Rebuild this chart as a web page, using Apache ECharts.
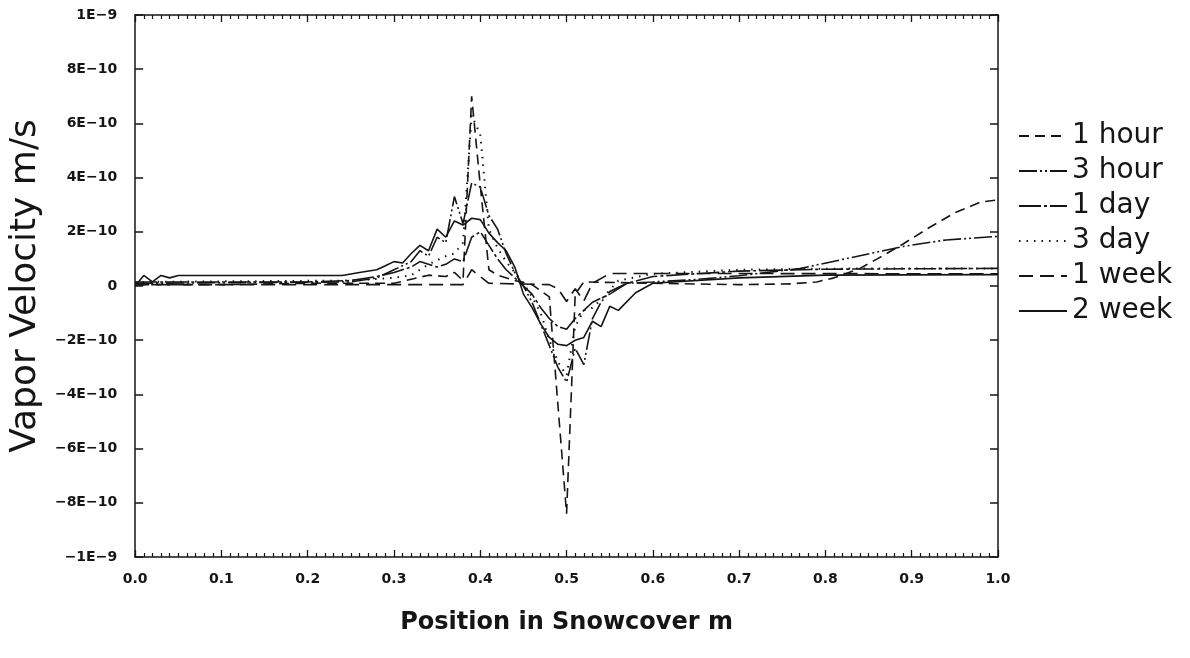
<!DOCTYPE html>
<html>
<head>
<meta charset="utf-8">
<script src="https://cdn.jsdelivr.net/npm/echarts@6/dist/echarts.min.js"></script>
<style>
html, body { margin: 0; padding: 0; background: #fff; }
#chart { width: 1190px; height: 658px; }
</style>
</head>
<body>
<div id="chart"></div>
<script>
// values are in units of 1E-10 m/s, position in m
var seriesNames = ['1 hour', '3 hour', '1 day', '3 day', '1 week', '2 week'];

var hour1 = [[0, 0.05], [0.1, 0.05], [0.2, 0.1], [0.3, 0.1], [0.32, 0.25], [0.34, 0.4], [0.36, 0.35], [0.37, 0.5], [0.38, 0.2],
	[0.39, 7.0], [0.40, 3.7], [0.41, 0.6], [0.42, 0.4], [0.44, 0.2], [0.46, 0.05], [0.48, -0.4], [0.49, -4.4], [0.50, -8.4],
	[0.51, -0.3], [0.52, 0.15], [0.6, 0.1], [0.7, 0.05], [0.76, 0.08], [0.79, 0.15], [0.81, 0.3], [0.84, 0.65], [0.86, 1.0],
	[0.89, 1.55], [0.92, 2.15], [0.95, 2.7], [0.98, 3.1], [1.0, 3.18]];

var hour3 = [[0, 0.1], [0.25, 0.15], [0.28, 0.3], [0.3, 0.6], [0.32, 0.9], [0.33, 1.3], [0.34, 1.1], [0.35, 1.8], [0.36, 1.6],
	[0.37, 3.3], [0.38, 2.3], [0.39, 3.8], [0.40, 3.65], [0.41, 2.6], [0.42, 2.1], [0.43, 1.2], [0.44, 0.5], [0.45, 0.0],
	[0.46, -0.6], [0.47, -1.4], [0.48, -2.2], [0.49, -3.0], [0.50, -3.55], [0.51, -2.3], [0.52, -2.9], [0.53, -1.2],
	[0.54, -0.6], [0.55, -0.2], [0.57, 0.1], [0.6, 0.15], [0.65, 0.24], [0.7, 0.38], [0.77, 0.64], [0.83, 1.05],
	[0.89, 1.46], [0.94, 1.7], [1.0, 1.83]];

var day1 = [[0, 0.15], [0.2, 0.15], [0.25, 0.2], [0.28, 0.35], [0.3, 0.5], [0.32, 0.7], [0.33, 0.9], [0.35, 0.7], [0.36, 0.8],
	[0.37, 1.0], [0.38, 0.9], [0.39, 1.8], [0.40, 2.0], [0.41, 1.5], [0.42, 1.0], [0.43, 0.6], [0.44, 0.3], [0.45, 0.0],
	[0.46, -0.3], [0.47, -0.8], [0.48, -1.2], [0.49, -1.5], [0.50, -1.6], [0.51, -1.2], [0.52, -0.9], [0.53, -0.6],
	[0.55, -0.3], [0.57, 0.1], [0.6, 0.35], [0.7, 0.55], [0.8, 0.62], [1.0, 0.65]];

var day3 = [[0, 0.15], [0.25, 0.2], [0.3, 0.3], [0.32, 0.4], [0.34, 0.8], [0.36, 1.1], [0.37, 1.2], [0.38, 1.6], [0.39, 6.3],
	[0.40, 5.6], [0.41, 2.1], [0.42, 1.4], [0.43, 0.9], [0.44, 0.5], [0.45, 0.1], [0.46, -0.4], [0.47, -1.0], [0.48, -2.0],
	[0.49, -2.8], [0.50, -3.3], [0.51, -1.5], [0.52, -0.9], [0.53, -0.8], [0.54, -0.5], [0.56, 0.2], [0.6, 0.45],
	[0.7, 0.6], [0.8, 0.64], [1.0, 0.65]];

var week1 = [[0, 0.05], [0.38, 0.05], [0.39, 0.6], [0.41, 0.1], [0.48, 0.05], [0.49, -0.1], [0.50, -0.57], [0.51, -0.1],
	[0.52, -0.55], [0.53, 0.1], [0.55, 0.46], [0.7, 0.46], [1.0, 0.45]];

var week2 = [[0, 0.0], [0.01, 0.39], [0.02, 0.15], [0.03, 0.39], [0.04, 0.3], [0.05, 0.39], [0.24, 0.39], [0.26, 0.5],
	[0.28, 0.6], [0.29, 0.75], [0.3, 0.9], [0.31, 0.85], [0.32, 1.2], [0.33, 1.5], [0.34, 1.3], [0.35, 2.1], [0.36, 1.8],
	[0.37, 2.4], [0.38, 2.25], [0.39, 2.5], [0.40, 2.45], [0.41, 1.95], [0.42, 1.6], [0.43, 1.3], [0.44, 0.7], [0.45, -0.3],
	[0.46, -0.8], [0.47, -1.4], [0.48, -1.9], [0.49, -2.15], [0.50, -2.2], [0.51, -2.0], [0.52, -1.9], [0.53, -1.3],
	[0.54, -1.5], [0.55, -0.75], [0.56, -0.9], [0.58, -0.25], [0.6, 0.1], [0.7, 0.3], [0.8, 0.4], [1.0, 0.42]];

var yTickValues = [-10, -8, -6, -4, -2, 0, 2, 4, 6, 8, 10];
var yTickLabels = ['\u22121E\u22129', '\u22128E\u221210', '\u22126E\u221210', '\u22124E\u221210', '\u22122E\u221210', '0',
	'2E\u221210', '4E\u221210', '6E\u221210', '8E\u221210', '1E\u22129'];

(function() {
	'use strict';
	var ink = '#151515';
	var chart = echarts.init(document.getElementById('chart'), null, { renderer: 'canvas' });

	var allData = [hour1, hour3, day1, day3, week1, week2];
	var dashes = [[10, 6], [18, 3, 2, 3, 2, 3], [22, 3, 3, 3], [1.5, 6], [14, 7], 'solid'];

	var series = [];
	for (var i = 0; i < seriesNames.length; i++) {
		series.push({
			name: seriesNames[i],
			type: 'line',
			data: allData[i],
			symbol: 'none',
			silent: true,
			lineStyle: { color: ink, width: i === 3 ? 2 : 1.6, type: dashes[i] },
			itemStyle: { color: ink }
		});
	}

	function xAxisBase(pos) {
		return {
			type: 'value',
			position: pos,
			min: 0,
			max: 1,
			interval: 0.1,
			axisLine: { show: true, onZero: false, lineStyle: { color: ink, width: 1.5 } },
			axisTick: { show: true, inside: true, length: 7, lineStyle: { color: ink, width: 1.3 } },
			minorTick: { show: true, splitNumber: 10, length: 4, lineStyle: { color: ink, width: 1.2 } },
			splitLine: { show: false },
			minorSplitLine: { show: false }
		};
	}

	function yAxisBase(pos) {
		return {
			type: 'value',
			position: pos,
			min: -10,
			max: 10,
			interval: 2,
			axisLine: { show: true, onZero: false, lineStyle: { color: ink, width: 1.5 } },
			axisTick: { show: true, inside: true, length: 8, lineStyle: { color: ink, width: 1.5 } },
			splitLine: { show: false }
		};
	}

	var xBottom = xAxisBase('bottom');
	xBottom.name = 'Position in Snowcover m';
	xBottom.nameLocation = 'middle';
	xBottom.nameGap = 54;
	xBottom.nameTextStyle = { fontFamily: 'DejaVu Sans', fontWeight: 'bold', fontSize: 24, color: ink };
	xBottom.axisLabel = {
		margin: 15, color: ink, fontFamily: 'DejaVu Sans', fontWeight: 'bold', fontSize: 14,
		formatter: function(v) { return v.toFixed(1); }
	};

	var xTop = xAxisBase('top');
	xTop.axisLabel = { show: false };

	var yLeft = yAxisBase('left');
	yLeft.name = 'Vapor Velocity m/s';
	yLeft.nameLocation = 'middle';
	yLeft.nameGap = 88;
	yLeft.nameTextStyle = { fontFamily: 'DejaVu Sans', fontSize: 36, color: ink };
	yLeft.axisLabel = {
		margin: 18, color: ink, fontFamily: 'DejaVu Sans', fontWeight: 'bold', fontSize: 14,
		formatter: function(v) {
			var k = yTickValues.indexOf(Math.round(v));
			return k >= 0 ? yTickLabels[k] : '';
		}
	};

	var yRight = yAxisBase('right');
	yRight.axisLabel = { show: false };

	var option = {
		animation: false,
		backgroundColor: '#fff',
		grid: { left: 134, right: 192, top: 15, bottom: 101, containLabel: false },
		legend: {
			data: seriesNames,
			orient: 'vertical',
			left: 1013,
			top: 117,
			itemWidth: 48,
			itemHeight: 14,
			itemGap: 7,
			itemStyle: { opacity: 0, borderWidth: 0 },
			textStyle: { fontFamily: 'DejaVu Sans', fontSize: 28, color: ink, lineHeight: 27 },
			selectedMode: false
		},
		xAxis: [xBottom, xTop],
		yAxis: [yLeft, yRight],
		series: series
	};
	chart.setOption(option);
	window.onresize = chart.resize;
}());
</script>
</body>
</html>
